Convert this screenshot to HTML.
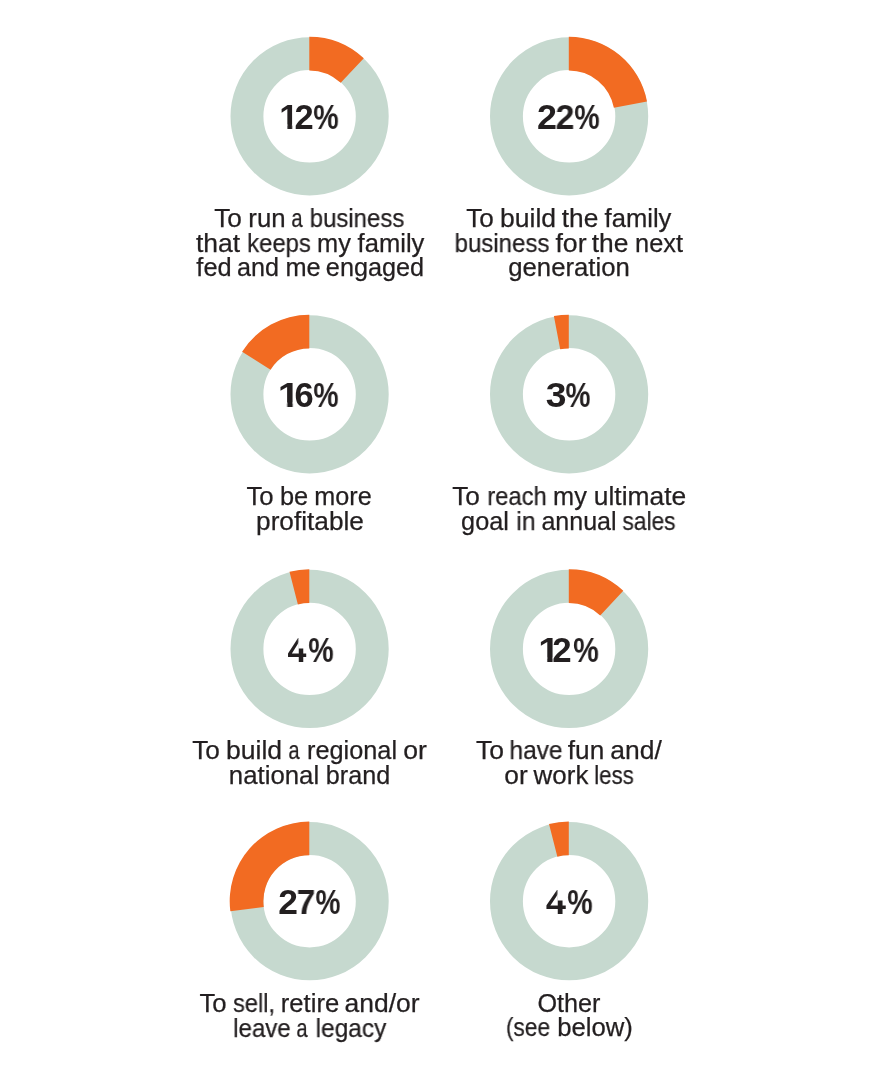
<!DOCTYPE html>
<html><head><meta charset="utf-8"><title>Chart</title>
<style>
html,body{margin:0;padding:0;background:#fff}
#c{position:relative;width:878px;height:1067px;overflow:hidden;background:#fff;font-family:"Liberation Sans",sans-serif;color:#231f20}
#c svg{position:absolute;left:0;top:0}
.l{position:absolute;left:0;top:0;font-size:1px;line-height:0}
.t{position:absolute;display:block;white-space:nowrap;font-size:25px;line-height:1;will-change:transform;-webkit-text-stroke:0.25px #231f20}
.p{position:absolute;display:block;white-space:nowrap;font-size:34.3px;line-height:1;font-weight:bold;will-change:transform}
.four{clip-path:polygon(0 0,10.80px 0,10.80px 15.60px,100% 15.60px,100% 100%,0 100%)}
.one{clip-path:polygon(0 0,100% 0,100% 24.60px,12.71px 24.60px,12.71px 100%,8.01px 100%,8.01px 24.60px,0 24.60px)}
</style></head><body>
<div id="c">
<svg width="878" height="1067" viewBox="0 0 878 1067">
<circle cx="309.6" cy="116.3" r="62.65" fill="none" stroke="#c6d9cf" stroke-width="32.90"/>
<path d="M309.30 36.70A79.6 79.6 0 0 1 363.79 58.27L340.72 82.84A45.9 45.9 0 0 0 309.30 70.40Z" fill="#f26b22"/>
<circle cx="569.1" cy="116.3" r="62.65" fill="none" stroke="#c6d9cf" stroke-width="32.90"/>
<path d="M568.80 36.70A79.6 79.6 0 0 1 646.99 101.38L613.89 107.70A45.9 45.9 0 0 0 568.80 70.40Z" fill="#f26b22"/>
<circle cx="309.6" cy="394.3" r="62.65" fill="none" stroke="#c6d9cf" stroke-width="32.90"/>
<path d="M309.30 314.70A79.6 79.6 0 0 0 242.09 351.65L270.55 369.71A45.9 45.9 0 0 1 309.30 348.40Z" fill="#f26b22"/>
<circle cx="569.1" cy="394.3" r="62.65" fill="none" stroke="#c6d9cf" stroke-width="32.90"/>
<path d="M568.80 314.70A79.6 79.6 0 0 0 553.88 316.11L560.20 349.21A45.9 45.9 0 0 1 568.80 348.40Z" fill="#f26b22"/>
<circle cx="309.6" cy="648.9" r="62.65" fill="none" stroke="#c6d9cf" stroke-width="32.90"/>
<path d="M309.30 569.30A79.6 79.6 0 0 0 289.50 571.80L297.89 604.44A45.9 45.9 0 0 1 309.30 603.00Z" fill="#f26b22"/>
<circle cx="569.1" cy="648.9" r="62.65" fill="none" stroke="#c6d9cf" stroke-width="32.90"/>
<path d="M568.80 569.30A79.6 79.6 0 0 1 623.29 590.87L600.22 615.44A45.9 45.9 0 0 0 568.80 603.00Z" fill="#f26b22"/>
<circle cx="309.6" cy="901.2" r="62.65" fill="none" stroke="#c6d9cf" stroke-width="32.90"/>
<path d="M309.30 821.60A79.6 79.6 0 0 0 230.33 911.18L263.76 906.95A45.9 45.9 0 0 1 309.30 855.30Z" fill="#f26b22"/>
<circle cx="569.1" cy="901.2" r="62.65" fill="none" stroke="#c6d9cf" stroke-width="32.90"/>
<path d="M568.80 821.60A79.6 79.6 0 0 0 549.00 824.10L557.39 856.74A45.9 45.9 0 0 1 568.80 855.30Z" fill="#f26b22"/>
</svg>
<div class="l"><span class="t" style="left:227.60px;top:206px;transform:translateX(-50%) scaleX(1.0486)">To</span> <span class="t" style="left:266.73px;top:206px;transform:translateX(-50%) scaleX(1.0317)">run</span> <span class="t" style="left:296.62px;top:206px;transform:translateX(-50%) scaleX(0.8076)">a</span> <span class="t" style="left:357.02px;top:206px;transform:translateX(-50%) scaleX(0.9581)">business</span></div>
<div class="l"><span class="t" style="left:217.80px;top:231px;transform:translateX(-50%) scaleX(1.0597)">that</span> <span class="t" style="left:278.50px;top:231px;transform:translateX(-50%) scaleX(0.9531)">keeps</span> <span class="t" style="left:333.61px;top:231px;transform:translateX(-50%) scaleX(1.0153)">my</span> <span class="t" style="left:390.75px;top:231px;transform:translateX(-50%) scaleX(1.0223)">family</span></div>
<div class="l"><span class="t" style="left:213.58px;top:255px;transform:translateX(-50%) scaleX(1.0143)">fed</span> <span class="t" style="left:257.53px;top:255px;transform:translateX(-50%) scaleX(1.0071)">and</span> <span class="t" style="left:302.64px;top:255px;transform:translateX(-50%) scaleX(1.0131)">me</span> <span class="t" style="left:374.68px;top:255px;transform:translateX(-50%) scaleX(1.0101)">engaged</span></div>
<div class="l"><span class="t" style="left:479.54px;top:206px;transform:translateX(-50%) scaleX(1.0441)">To</span> <span class="t" style="left:527.58px;top:206px;transform:translateX(-50%) scaleX(1.0617)">build</span> <span class="t" style="left:579.67px;top:206px;transform:translateX(-50%) scaleX(1.0504)">the</span> <span class="t" style="left:637.52px;top:206px;transform:translateX(-50%) scaleX(1.0235)">family</span></div>
<div class="l"><span class="t" style="left:501.56px;top:231px;transform:translateX(-50%) scaleX(0.9603)">business</span> <span class="t" style="left:570.78px;top:231px;transform:translateX(-50%) scaleX(1.0683)">for</span> <span class="t" style="left:609.59px;top:231px;transform:translateX(-50%) scaleX(1.0557)">the</span> <span class="t" style="left:658.58px;top:231px;transform:translateX(-50%) scaleX(1.0143)">next</span></div>
<div class="l"><span class="t" style="left:568.88px;top:255px;transform:translateX(-50%) scaleX(1.0285)">generation</span></div>
<div class="l"><span class="t" style="left:259.52px;top:484px;transform:translateX(-50%) scaleX(1.0293)">To</span> <span class="t" style="left:293.55px;top:484px;transform:translateX(-50%) scaleX(1.0149)">be</span> <span class="t" style="left:343.03px;top:484px;transform:translateX(-50%) scaleX(1.0067)">more</span></div>
<div class="l"><span class="t" style="left:309.64px;top:509px;transform:translateX(-50%) scaleX(1.0490)">profitable</span></div>
<div class="l"><span class="t" style="left:465.77px;top:484px;transform:translateX(-50%) scaleX(1.0500)">To</span> <span class="t" style="left:516.54px;top:484px;transform:translateX(-50%) scaleX(0.9470)">reach</span> <span class="t" style="left:569.75px;top:484px;transform:translateX(-50%) scaleX(1.0129)">my</span> <span class="t" style="left:639.82px;top:484px;transform:translateX(-50%) scaleX(1.0543)">ultimate</span></div>
<div class="l"><span class="t" style="left:484.80px;top:509px;transform:translateX(-50%) scaleX(1.0110)">goal</span> <span class="t" style="left:525.76px;top:509px;transform:translateX(-50%) scaleX(0.9981)">in</span> <span class="t" style="left:578.58px;top:509px;transform:translateX(-50%) scaleX(1.0017)">annual</span> <span class="t" style="left:648.88px;top:509px;transform:translateX(-50%) scaleX(0.9100)">sales</span></div>
<div class="l"><span class="t" style="left:206.10px;top:738px;transform:translateX(-50%) scaleX(1.0493)">To</span> <span class="t" style="left:253.76px;top:738px;transform:translateX(-50%) scaleX(1.0629)">build</span> <span class="t" style="left:293.70px;top:738px;transform:translateX(-50%) scaleX(0.8043)">a</span> <span class="t" style="left:351.57px;top:738px;transform:translateX(-50%) scaleX(1.0122)">regional</span> <span class="t" style="left:414.71px;top:738px;transform:translateX(-50%) scaleX(1.0631)">or</span></div>
<div class="l"><span class="t" style="left:273.87px;top:763px;transform:translateX(-50%) scaleX(1.0316)">national</span> <span class="t" style="left:357.77px;top:763px;transform:translateX(-50%) scaleX(1.0061)">brand</span></div>
<div class="l"><span class="t" style="left:489.82px;top:738px;transform:translateX(-50%) scaleX(1.0591)">To</span> <span class="t" style="left:535.85px;top:738px;transform:translateX(-50%) scaleX(0.9798)">have</span> <span class="t" style="left:585.60px;top:738px;transform:translateX(-50%) scaleX(1.0474)">fun</span> <span class="t" style="left:635.58px;top:738px;transform:translateX(-50%) scaleX(1.0586)">and/</span></div>
<div class="l"><span class="t" style="left:515.60px;top:763px;transform:translateX(-50%) scaleX(1.0526)">or</span> <span class="t" style="left:560.82px;top:763px;transform:translateX(-50%) scaleX(1.0370)">work</span> <span class="t" style="left:613.84px;top:763px;transform:translateX(-50%) scaleX(0.8878)">less</span></div>
<div class="l"><span class="t" style="left:212.54px;top:991px;transform:translateX(-50%) scaleX(1.0286)">To</span> <span class="t" style="left:253.70px;top:991px;transform:translateX(-50%) scaleX(0.9426)">sell,</span> <span class="t" style="left:309.50px;top:991px;transform:translateX(-50%) scaleX(1.0246)">retire</span> <span class="t" style="left:381.68px;top:991px;transform:translateX(-50%) scaleX(1.0589)">and/or</span></div>
<div class="l"><span class="t" style="left:261.50px;top:1016px;transform:translateX(-50%) scaleX(0.9628)">leave</span> <span class="t" style="left:301.60px;top:1016px;transform:translateX(-50%) scaleX(0.8028)">a</span> <span class="t" style="left:350.62px;top:1016px;transform:translateX(-50%) scaleX(0.9779)">legacy</span></div>
<div class="l"><span class="t" style="left:568.87px;top:991px;transform:translateX(-50%) scaleX(1.0083)">Other</span></div>
<div class="l"><span class="t" style="left:527.96px;top:1015px;transform:translateX(-50%) scaleX(0.9073)">(see</span> <span class="t" style="left:594.85px;top:1015px;transform:translateX(-50%) scaleX(1.0280)">below)</span></div>
<div class="l"><span class="p one" style="left:288.50px;top:100px;transform:translateX(-50%) scaleX(1.0108)">1</span><span class="p" style="left:303.58px;top:100px;transform:translateX(-50%) scaleX(1.0044)">2</span><span class="p" style="left:325.62px;top:100px;transform:translateX(-50%) scaleX(0.8316)">%</span></div>
<div class="l"><span class="p" style="left:546.55px;top:100px;transform:translateX(-50%) scaleX(1.0465)">2</span><span class="p" style="left:564.88px;top:100px;transform:translateX(-50%) scaleX(0.9893)">2</span><span class="p" style="left:586.62px;top:100px;transform:translateX(-50%) scaleX(0.8316)">%</span></div>
<div class="l"><span class="p one" style="left:288.63px;top:378px;transform:translateX(-50%) scaleX(1.1672)">1</span><span class="p" style="left:303.81px;top:378px;transform:translateX(-50%) scaleX(1.0046)">6</span><span class="p" style="left:325.83px;top:378px;transform:translateX(-50%) scaleX(0.8262)">%</span></div>
<div class="l"><span class="p" style="left:555.85px;top:378px;transform:translateX(-50%) scaleX(1.0872)">3</span><span class="p" style="left:577.72px;top:378px;transform:translateX(-50%) scaleX(0.8191)">%</span></div>
<div class="l"><span class="p four" style="left:296.79px;top:633px;transform:translateX(-50%) scaleX(1.0015)">4</span><span class="p" style="left:320.62px;top:633px;transform:translateX(-50%) scaleX(0.8316)">%</span></div>
<div class="l"><span class="p one" style="left:548.60px;top:633px;transform:translateX(-50%) scaleX(1.1282)">1</span><span class="p" style="left:561.85px;top:633px;transform:translateX(-50%) scaleX(1.0155)">2</span><span class="p" style="left:585.85px;top:633px;transform:translateX(-50%) scaleX(0.8369)">%</span></div>
<div class="l"><span class="p" style="left:287.62px;top:885px;transform:translateX(-50%) scaleX(1.0323)">2</span><span class="p" style="left:305.84px;top:885px;transform:translateX(-50%) scaleX(0.9763)">7</span><span class="p" style="left:327.62px;top:885px;transform:translateX(-50%) scaleX(0.8191)">%</span></div>
<div class="l"><span class="p four" style="left:555.57px;top:885px;transform:translateX(-50%) scaleX(1.0671)">4</span><span class="p" style="left:579.61px;top:885px;transform:translateX(-50%) scaleX(0.8313)">%</span></div>
</div>
</body></html>
